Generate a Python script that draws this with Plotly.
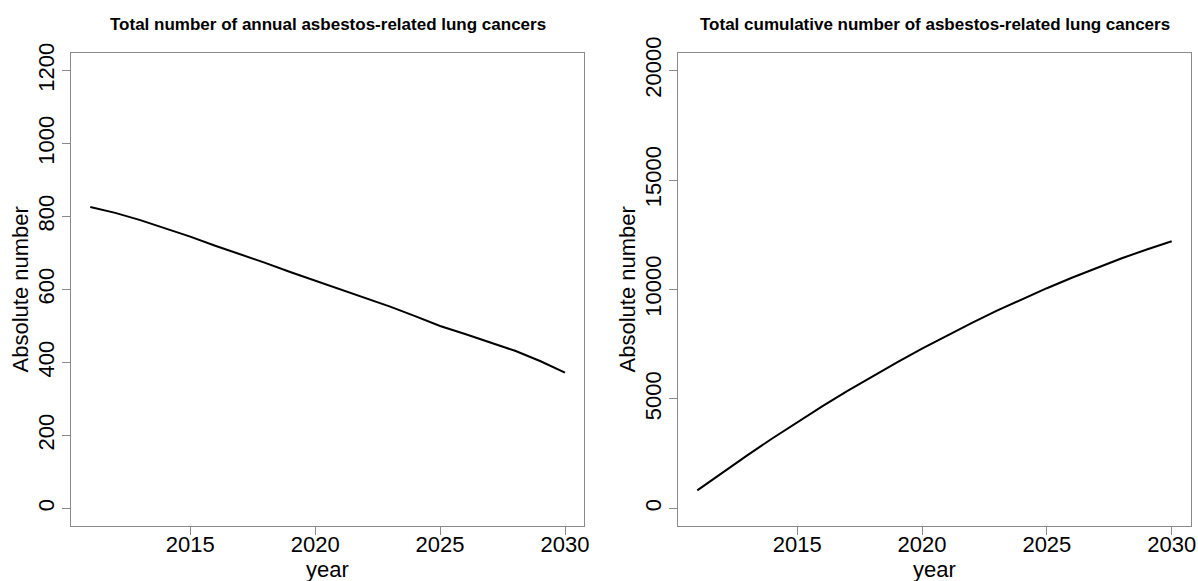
import plotly.graph_objects as go

years = list(range(2011, 2031))
annual = [826, 810, 790, 768, 745, 720, 697, 673, 648, 624,
          600, 578, 553, 527, 500, 478, 456, 432, 404, 372]
cumulative = [826, 1636, 2426, 3194, 3939, 4659, 5356, 6029, 6677, 7301,
              7901, 8479, 9032, 9559, 10059, 10537, 10993, 11425, 11829, 12201]

title_left = "Total number of annual asbestos-related lung cancers"
title_right = "Total cumulative number of asbestos-related lung cancers"
x_ticks = [2015, 2020, 2025, 2030]
y_ticks_left = [0, 200, 400, 600, 800, 1000, 1200]
y_ticks_right = [0, 5000, 10000, 15000, 20000]

W, H = 1198, 581
FONT = "Liberation Sans, Arial, sans-serif"
AXC = "#8a8a8a"

fig = go.Figure()
fig.add_trace(go.Scatter(x=years, y=annual, mode="lines",
                         line=dict(color="black", width=2), xaxis="x", yaxis="y",
                         showlegend=False))
fig.add_trace(go.Scatter(x=years, y=cumulative, mode="lines",
                         line=dict(color="black", width=2), xaxis="x2", yaxis="y2",
                         showlegend=False))

xd1 = [71.3 / W, 584 / W]
xd2 = [678.3 / W, 1190.7 / W]
yd = [1 - 526 / H, 1 - 53 / H]

def xax(domain, anchor):
    return dict(domain=domain, anchor=anchor, range=[2010.24, 2030.76],
                tickvals=x_ticks, ticktext=[str(v) for v in x_ticks],
                ticks="outside", ticklen=8, tickcolor=AXC,
                showline=True, linecolor=AXC, linewidth=1, mirror=True,
                showgrid=False, zeroline=False, automargin=False,
                ticklabelstandoff=-9,
                tickfont=dict(size=22, color="black", family=FONT))

def yax(domain, anchor, rng, tv):
    return dict(domain=domain, anchor=anchor, range=rng, tickvals=tv,
                ticktext=[str(v) for v in tv],
                ticks="outside", ticklen=8, tickcolor=AXC, tickangle=-90,
                showline=True, linecolor=AXC, linewidth=1, mirror=True,
                showgrid=False, zeroline=False, automargin=False,
                tickfont=dict(size=22, color="black", family=FONT))

fig.update_layout(
    width=W, height=H,
    margin=dict(l=0, r=0, t=0, b=0, pad=0, autoexpand=False),
    paper_bgcolor="white", plot_bgcolor="white",
    font=dict(family=FONT, color="black"),
    xaxis=xax(xd1, "y"),
    yaxis=yax(yd, "x", [-48, 1248], y_ticks_left),
    xaxis2=xax(xd2, "y2"),
    yaxis2=yax(yd, "x2", [-800, 20800], y_ticks_right),
)

ann = []
for dom, t in [(xd1, title_left), (xd2, title_right)]:
    cx = (dom[0] + dom[1]) / 2
    ann.append(dict(text="<b>" + t + "</b>", x=cx, y=1 - 24 / H, xref="paper", yref="paper",
                    showarrow=False, xanchor="center", yanchor="middle",
                    font=dict(size=17, family=FONT, color="black")))
    ann.append(dict(text="year", x=cx, y=1 - 569 / H, xref="paper", yref="paper",
                    showarrow=False, xanchor="center", yanchor="middle",
                    font=dict(size=22, family=FONT, color="black")))
for xpx in [20, 627]:
    ann.append(dict(text="Absolute number", x=xpx / W, y=(yd[0] + yd[1]) / 2,
                    xref="paper", yref="paper", showarrow=False, textangle=-90,
                    xanchor="center", yanchor="middle",
                    font=dict(size=22, family=FONT, color="black")))
fig.update_layout(annotations=ann)

fig.write_html("out.html", config={"displayModeBar": False},
               post_script="document.body.style.margin='0';document.body.style.overflow='hidden';")
